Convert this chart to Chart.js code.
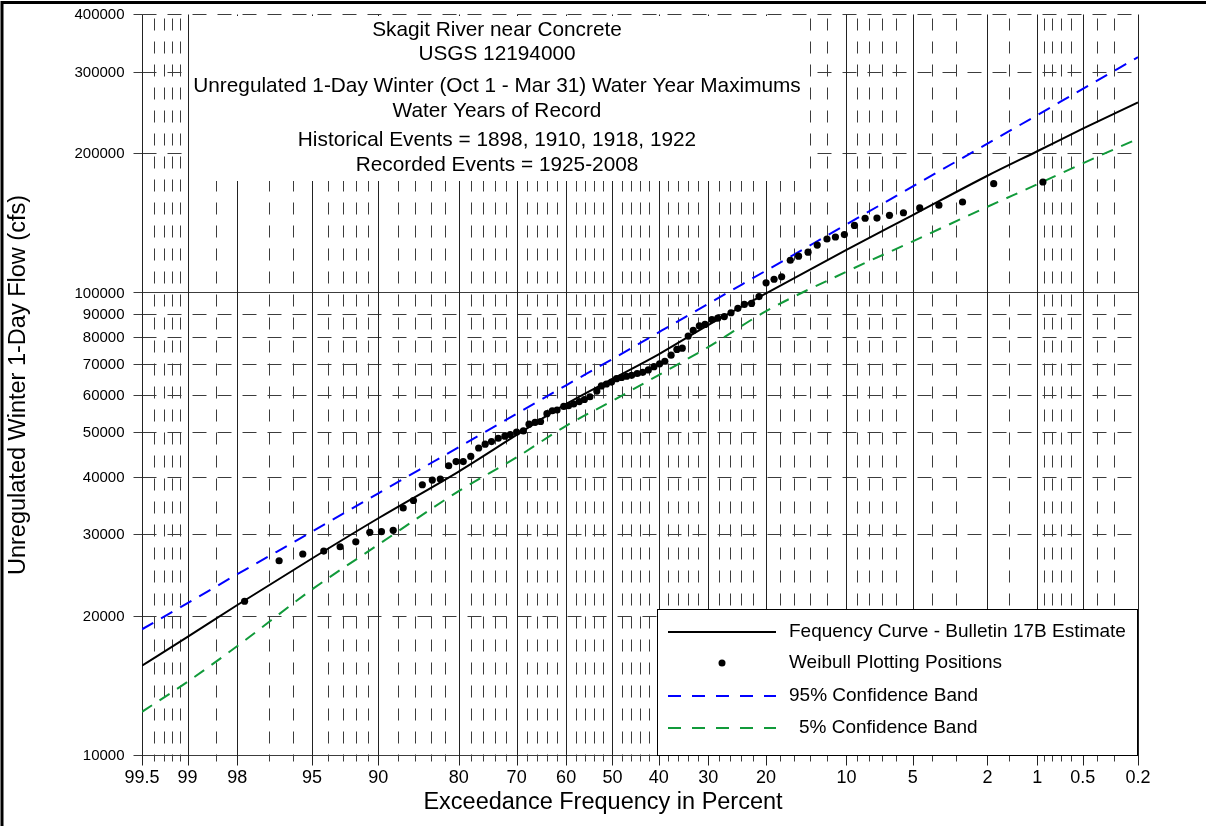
<!DOCTYPE html>
<html>
<head>
<meta charset="utf-8">
<script src="https://cdn.jsdelivr.net/npm/chart.js@4.4.1/dist/chart.umd.min.js"></script>
<style>
html,body{margin:0;padding:0;background:#fff;}
#wrap{width:1206px;height:826px;position:relative;}
</style>
</head>
<body>
<div id="wrap"><canvas id="c" width="1206" height="826"></canvas></div>
<script>
// ---------------- DATA ----------------
const titleLines = [
  "Skagit River near Concrete",
  "USGS 12194000",
  "Unregulated 1-Day Winter (Oct 1 - Mar 31) Water Year Maximums",
  "Water Years of Record",
  "Historical Events = 1898, 1910, 1918, 1922",
  "Recorded Events = 1925-2008"
];
const xAxisTitle = "Exceedance Frequency in Percent";
const yAxisTitle = "Unregulated Winter 1-Day Flow (cfs)";

// major exceedance ticks (percent) and their labels
const majorPct = [99.5, 99, 98, 95, 90, 80, 70, 60, 50, 40, 30, 20, 10, 5, 2, 1, 0.5, 0.2];
const majorLabels = ["99.5", "99", "98", "95", "90", "80", "70", "60", "50", "40", "30", "20", "10", "5", "2", "1", "0.5", "0.2"];
// minor exceedance grid lines (percent)
const minorPct = [99.4, 99.3, 99.2, 99.1, 98.5, 97, 96, 94, 93, 92, 91, 88, 86, 84, 82, 78, 76, 74, 72,
  68, 66, 64, 62, 58, 56, 54, 52, 48, 46, 44, 42, 38, 36, 34, 32, 28, 26, 24, 22, 18, 16, 14, 12,
  9, 8, 7, 6, 4, 3, 1.5, 0.9, 0.8, 0.7, 0.6, 0.4, 0.3];
// y ticks (cfs)
const yTickValues = [10000, 20000, 30000, 40000, 50000, 60000, 70000, 80000, 90000, 100000, 200000, 300000, 400000];

// Weibull plotting positions
const weibullPct = [97.8, 96.6, 95.5, 94.3, 93.2, 92.0, 90.8, 89.7, 88.5, 87.4,
  86.2, 85.1, 83.8, 82.7, 81.5, 80.4, 79.3, 78.1, 76.8, 75.7,
  74.6, 73.4, 72.2, 71.2, 70.0, 68.7, 67.6, 66.4, 65.3, 64.0,
  62.9, 61.9, 60.5, 59.5, 58.4, 57.2, 56.1, 54.9, 53.4, 52.4,
  51.3, 50.2, 49.1, 48.0, 46.9, 45.8, 44.6, 43.4, 42.2, 41.0,
  39.8, 38.7, 37.4, 36.2, 35.1, 33.9, 32.9, 31.7, 30.6, 29.3,
  28.2, 27.0, 25.8, 24.6, 23.5, 22.3, 21.1, 20.0, 18.8, 17.7,
  16.5, 15.4, 14.2, 13.1, 12.0, 11.1, 10.2, 9.25, 8.32, 7.37,
  6.46, 5.55, 4.62, 3.69, 2.76, 1.84, 0.92];
const weibullFlow = [21500, 26300, 27200, 27600, 28200, 28900, 30300, 30400, 30600, 34200,
  35500, 38400, 39300, 39500, 42200, 43100, 43100, 44200, 46100, 47000,
  47600, 48400, 48900, 49300, 49900, 50200, 51900, 52400, 52600, 54700,
  55500, 55700, 56700, 56900, 57400, 58100, 58700, 59500, 61200, 62800,
  63400, 64000, 65100, 65500, 65900, 66200, 66800, 67200, 68000, 69100,
  70100, 71000, 73200, 75300, 75800, 80500, 82800, 84700, 85300, 87400,
  88000, 88700, 90400, 92400, 94200, 94700, 98000, 104900, 106800, 108100,
  117400, 119800, 122200, 126600, 130500, 131800, 133400, 139600, 144700, 144800,
  146800, 148700, 152300, 154400, 156900, 171900, 173300];

// frequency curve and confidence bands at the major exceedance percents
const curvePct = [99.5, 99, 98, 95, 90, 80, 70, 60, 50, 40, 30, 20, 10, 5, 2, 1, 0.5, 0.2];
const curveFlow = [15600, 18000, 21100, 26600, 32500, 41000, 49200, 57400, 65000, 73500, 85000, 99600, 123600, 147000, 178800, 202000, 226000, 257500];
const upper95Flow = [18700, 21300, 24600, 30400, 36800, 46300, 54700, 63000, 71800, 82000, 94500, 111500, 140300, 169600, 209800, 241800, 275600, 322600];
const lower5Flow = [12400, 14400, 17200, 22800, 28500, 37200, 44000, 51500, 58300, 66300, 76200, 91100, 110900, 129000, 153200, 171300, 190200, 215000];

const legendLabels = ["Fequency Curve - Bulletin 17B Estimate", "Weibull Plotting Positions", "95% Confidence Band", "5% Confidence Band"];

// ---------------- probability scale helper ----------------
function normInv(p) {
  const a = [-3.969683028665376e+01, 2.209460984245205e+02, -2.759285104469687e+02, 1.383577518672690e+02, -3.066479806614716e+01, 2.506628277459239e+00];
  const b = [-5.447609879822406e+01, 1.615858368580409e+02, -1.556989798598866e+02, 6.680131188771972e+01, -1.328068155288572e+01];
  const c = [-7.784894002430293e-03, -3.223964580411365e-01, -2.400758277161838e+00, -2.549671010229528e+00, 4.374664141464968e+00, 2.938163982698783e+00];
  const d = [7.784695709041462e-03, 3.224671290700398e-01, 2.445134137142996e+00, 3.754408661907416e+00];
  const pl = 0.02425, ph = 1 - pl;
  let q, r;
  if (p < pl) {
    q = Math.sqrt(-2 * Math.log(p));
    return (((((c[0]*q+c[1])*q+c[2])*q+c[3])*q+c[4])*q+c[5]) / ((((d[0]*q+d[1])*q+d[2])*q+d[3])*q+1);
  }
  if (p > ph) {
    q = Math.sqrt(-2 * Math.log(1 - p));
    return -(((((c[0]*q+c[1])*q+c[2])*q+c[3])*q+c[4])*q+c[5]) / ((((d[0]*q+d[1])*q+d[2])*q+d[3])*q+1);
  }
  q = p - 0.5; r = q * q;
  return (((((a[0]*r+a[1])*r+a[2])*r+a[3])*r+a[4])*r+a[5])*q / (((((b[0]*r+b[1])*r+b[2])*r+b[3])*r+b[4])*r+1);
}
const zOf = pct => normInv(1 - pct / 100);

const FONT = '"Liberation Sans", Arial, Helvetica, sans-serif';
const GRID = '#3c3c3c';
const BLUE = '#0000ff';
const GREEN = '#119a3a';

const toXY = (pcts, vals) => pcts.map((p, i) => ({ x: zOf(p), y: vals[i] }));

// ---------------- custom drawing plugin ----------------
const chartDecor = {
  id: 'chartDecor',
  beforeDatasetsDraw(chart) {
    const ctx = chart.ctx, xs = chart.scales.x, ys = chart.scales.y, ca = chart.chartArea;
    ctx.save();
    // outer frame (left and top)
    ctx.strokeStyle = '#000'; ctx.lineWidth = 3; ctx.setLineDash([]);
    ctx.beginPath(); ctx.moveTo(2, 830); ctx.lineTo(2, 2.5); ctx.lineTo(1210, 2.5); ctx.stroke();

    ctx.lineWidth = 1;
    const left = Math.round(ca.left) + 0.5, right = Math.round(ca.right) + 0.5;
    const top = Math.round(ca.top) + 0.5, bottom = Math.round(ca.bottom) + 0.5;

    // minor vertical dashed lines
    ctx.strokeStyle = GRID;
    for (const p of minorPct) {
      const x = Math.round(xs.getPixelForValue(zOf(p))) + 0.5;
      ctx.setLineDash([12, 11]); ctx.lineDashOffset = -4;
      ctx.beginPath(); ctx.moveTo(x, top); ctx.lineTo(x, bottom); ctx.stroke();
      ctx.setLineDash([]);
      ctx.beginPath(); ctx.moveTo(x, bottom); ctx.lineTo(x, bottom + 6); ctx.stroke();
    }
    // horizontal lines
    for (const v of yTickValues) {
      const y = Math.round(ys.getPixelForValue(v)) + 0.5;
      const solid = (v === 10000 || v === 100000);
      ctx.setLineDash(solid ? [] : [14, 11]); ctx.lineDashOffset = 0;
      ctx.beginPath(); ctx.moveTo(left, y); ctx.lineTo(right, y); ctx.stroke();
      ctx.setLineDash([]);
      ctx.beginPath(); ctx.moveTo(left - 9, y); ctx.lineTo(left, y); ctx.stroke();
    }
    // major vertical solid lines
    ctx.setLineDash([]);
    ctx.strokeStyle = '#222';
    for (const p of majorPct) {
      const x = Math.round(xs.getPixelForValue(zOf(p))) + 0.5;
      ctx.beginPath(); ctx.moveTo(x, top); ctx.lineTo(x, bottom + 10); ctx.stroke();
    }

    // y tick labels
    ctx.fillStyle = '#000';
    ctx.font = '15px ' + FONT;
    ctx.textAlign = 'right'; ctx.textBaseline = 'middle';
    for (const v of yTickValues) {
      ctx.fillText(String(v), left - 18, ys.getPixelForValue(v) + 1);
    }
    // x tick labels
    ctx.font = '18px ' + FONT;
    ctx.textAlign = 'center';
    majorPct.forEach((p, i) => {
      ctx.fillText(majorLabels[i], xs.getPixelForValue(zOf(p)), 778);
    });
    // axis titles
    ctx.font = '23.5px ' + FONT;
    ctx.fillText(xAxisTitle, 603, 803);
    ctx.save();
    ctx.translate(19, 385); ctx.rotate(-Math.PI / 2);
    ctx.fillText(yAxisTitle, 0, 0);
    ctx.restore();

    // title block
    ctx.fillStyle = '#fff';
    ctx.fillRect(190, 16, 618, 165);
    ctx.fillStyle = '#000';
    ctx.font = '20.8px ' + FONT;
    const ty = [30, 54, 86, 111, 140, 165];
    titleLines.forEach((t, i) => ctx.fillText(t, 497, ty[i]));
    ctx.restore();
  },
  afterDatasetsDraw(chart) {
    const ctx = chart.ctx;
    ctx.save();
    // legend box
    const lx = 657.5, ly = 609.5, lw = 480, lh = 146;
    ctx.fillStyle = '#fff';
    ctx.fillRect(lx, ly, lw, lh);
    ctx.strokeStyle = '#000'; ctx.lineWidth = 1; ctx.setLineDash([]);
    ctx.strokeRect(lx, ly, lw, lh);
    const rows = [632, 663, 696, 728];
    ctx.lineWidth = 2;
    // row 1 black line
    ctx.strokeStyle = '#000';
    ctx.beginPath(); ctx.moveTo(668, rows[0]); ctx.lineTo(776, rows[0]); ctx.stroke();
    // row 2 dot
    ctx.fillStyle = '#000';
    ctx.beginPath(); ctx.arc(722, rows[1], 3.5, 0, Math.PI * 2); ctx.fill();
    // row 3 blue dashed
    ctx.strokeStyle = BLUE; ctx.setLineDash([13, 11]);
    ctx.beginPath(); ctx.moveTo(668, rows[2]); ctx.lineTo(776, rows[2]); ctx.stroke();
    // row 4 green dashed
    ctx.strokeStyle = GREEN;
    ctx.beginPath(); ctx.moveTo(668, rows[3]); ctx.lineTo(776, rows[3]); ctx.stroke();
    ctx.setLineDash([]);
    ctx.fillStyle = '#000';
    ctx.font = '19px ' + FONT;
    ctx.textAlign = 'left'; ctx.textBaseline = 'middle';
    ctx.fillText(legendLabels[0], 789, rows[0]);
    ctx.fillText(legendLabels[1], 789, rows[1]);
    ctx.fillText(legendLabels[2], 789, rows[2]);
    ctx.fillText(legendLabels[3], 799, rows[3]);
    ctx.restore();
  }
};

new Chart(document.getElementById('c'), {
  type: 'scatter',
  data: {
    datasets: [
      {
        label: legendLabels[1],
        data: toXY(weibullPct, weibullFlow),
        showLine: false,
        pointRadius: 3.6,
        pointBackgroundColor: '#000',
        pointBorderWidth: 0,
        order: 0
      },
      {
        label: legendLabels[0],
        data: toXY(curvePct, curveFlow),
        showLine: true,
        borderColor: '#000',
        borderWidth: 2,
        pointRadius: 0,
        cubicInterpolationMode: 'monotone',
        order: 1
      },
      {
        label: legendLabels[2],
        data: toXY(curvePct, upper95Flow),
        showLine: true,
        borderColor: BLUE,
        borderWidth: 2,
        borderDash: [13, 9],
        pointRadius: 0,
        cubicInterpolationMode: 'monotone',
        order: 2
      },
      {
        label: legendLabels[3],
        data: toXY(curvePct, lower5Flow),
        showLine: true,
        borderColor: GREEN,
        borderWidth: 2,
        borderDash: [12, 9],
        pointRadius: 0,
        cubicInterpolationMode: 'monotone',
        order: 3
      }
    ]
  },
  options: {
    responsive: false,
    animation: false,
    devicePixelRatio: 1,
    layout: { padding: { left: 142, right: 68, top: 14, bottom: 71 } },
    plugins: { legend: { display: false }, tooltip: { enabled: false }, title: { display: false } },
    scales: {
      x: { type: 'linear', display: false, min: zOf(99.5), max: zOf(0.2) },
      y: { type: 'logarithmic', display: false, min: 10000, max: 400000 }
    }
  },
  plugins: [chartDecor]
});
</script>
</body>
</html>
